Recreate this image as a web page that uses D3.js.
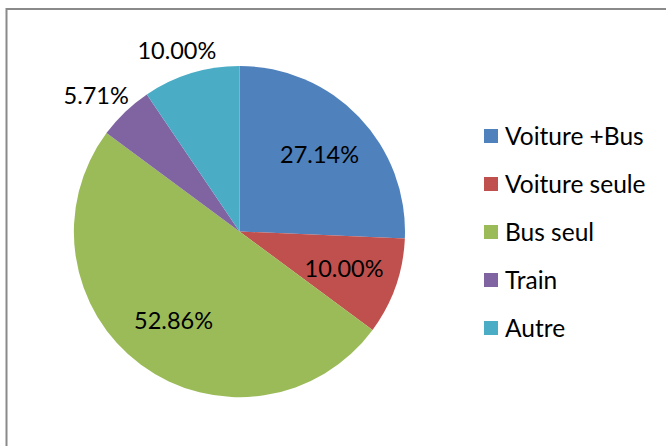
<!DOCTYPE html>
<html>
<head>
<meta charset="utf-8">
<script src="https://cdn.jsdelivr.net/npm/d3@7"></script>
<style>
  body { margin: 0; background: #fff; }
  text { font-family: Lato, "Open Sans", sans-serif; fill: #000; }
</style>
</head>
<body>
<svg width="666" height="446"></svg>
<script>
var categories = ["Voiture +Bus", "Voiture seule", "Bus seul", "Train", "Autre"];
var values = [27.14, 10.00, 52.86, 5.71, 10.00];
var labels = ["27.14%", "10.00%", "52.86%", "5.71%", "10.00%"];
var colors = ["#4F81BD", "#C0504D", "#9BBB59", "#8064A2", "#4BACC6"];

var data = categories.map(function(c, i) {
  return { name: c, value: values[i], label: labels[i] };
});

var svg = d3.select("svg");

// chart frame (runs off the right and bottom edges)
svg.append("rect")
  .attr("x", 6.5).attr("y", 9)
  .attr("width", 700).attr("height", 500)
  .attr("fill", "none")
  .attr("stroke", "#8a8a8a")
  .attr("stroke-width", 2);

var cx = 239.5, cy = 231.5, radius = 165.5;

var color = d3.scaleOrdinal().domain(categories).range(colors);

var pie = d3.pie()
  .sort(null)
  .value(function(d) { return d.value; });

var arc = d3.arc().innerRadius(0).outerRadius(radius);
var inArc = d3.arc().innerRadius(radius * 0.67).outerRadius(radius * 0.67);
var outArc = d3.arc().innerRadius(radius + 9).outerRadius(radius + 9);

var g = svg.append("g")
  .attr("transform", "translate(" + cx + "," + cy + ")");

var arcs = pie(data);

g.selectAll("path")
  .data(arcs)
  .enter().append("path")
  .attr("d", arc)
  .attr("fill", function(d) { return color(d.data.name); });

// small slices near the top get their label outside the pie
var lbl = g.selectAll("text.lbl")
  .data(arcs)
  .enter().append("text")
  .attr("class", "lbl")
  .attr("text-anchor", "middle")
  .attr("dy", "0.35em")
  .style("font-size", "23.5px")
  .text(function(d) { return d.data.label; });

lbl.attr("transform", function(d) {
  var outside = (d.endAngle - d.startAngle) < 0.4 || d.startAngle > 5.5;
  if (!outside) {
    var c = inArc.centroid(d);
    return "translate(" + c[0] + "," + c[1] + ")";
  }
  var a = (d.startAngle + d.endAngle) / 2;
  var p = outArc.centroid(d);
  var bb = this.getBBox();
  var x = p[0] + Math.sin(a) * bb.width / 2;
  var y = p[1] - Math.cos(a) * bb.height / 2;
  return "translate(" + x + "," + y + ")";
});

// legend
var legend = svg.append("g")
  .attr("transform", "translate(484,136)");

var item = legend.selectAll("g")
  .data(categories)
  .enter().append("g")
  .attr("transform", function(d, i) { return "translate(0," + (i * 48) + ")"; });

item.append("rect")
  .attr("x", 0).attr("y", -7)
  .attr("width", 14).attr("height", 14)
  .attr("fill", function(d) { return color(d); });

item.append("text")
  .attr("x", 21)
  .attr("dy", "0.35em")
  .style("font-size", "24.5px")
  .text(function(d) { return d; });
</script>
</body>
</html>
